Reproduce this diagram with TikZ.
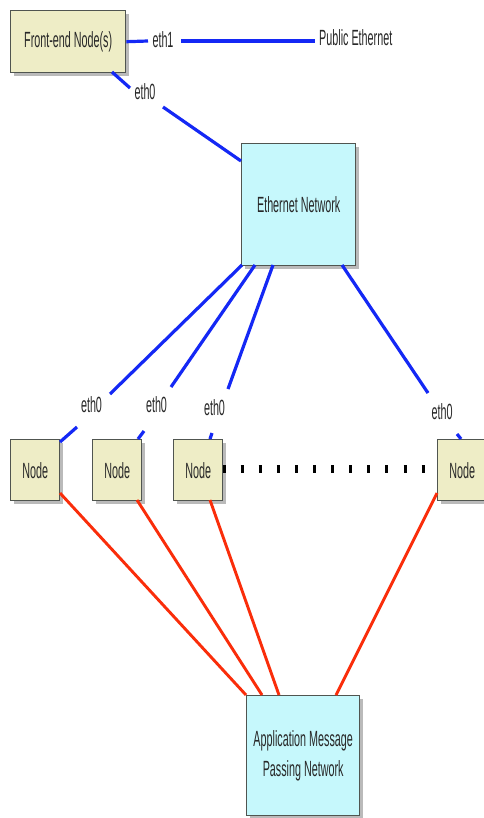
\documentclass[tikz,border=0pt]{standalone}
\usepackage{fontspec}
\setmainfont{Liberation Sans}[FakeStretch=0.49]
\usetikzlibrary{shadows,calc}
\definecolor{beige}{RGB}{238,237,198}
\definecolor{cyanbox}{RGB}{198,248,252}
\definecolor{edgec}{RGB}{80,85,80}
\definecolor{eblue}{RGB}{20,40,245}
\definecolor{ered}{RGB}{250,45,10}
\definecolor{txt}{RGB}{40,40,40}
\begin{document}
\begin{tikzpicture}[x=1pt,y=-1pt,
  box/.style={draw=edgec, line width=1.4pt, anchor=north west, inner sep=0pt,
    drop shadow={shadow xshift=3pt, shadow yshift=-3pt, fill=black!45, opacity=0.6},
    font=\fontsize{22}{30}\selectfont, text=txt, align=center},
  nodebox/.style={box, fill=beige},
  netbox/.style={box, fill=cyanbox},
  lbl/.style={font=\fontsize{22}{26}\selectfont, text=txt, inner sep=0pt},
  bl/.style={draw=eblue, line width=3.2pt},
  rl/.style={draw=ered, line width=2.9pt},
  dots/.style={draw=black, line width=7.5pt, dash pattern=on 3pt off 15.1pt}]
\useasboundingbox[fill=white] (0,0) rectangle (483,818);

% boxes
\node[nodebox, minimum width=115pt, minimum height=62pt] (fe) at (10,10) {Front-end Node(s)};
\node[netbox, minimum width=114pt, minimum height=122pt] (en) at (241,143) {Ethernet Network};
\node[nodebox, minimum width=49pt, minimum height=61pt] (n1) at (10,439) {Node};
\node[nodebox, minimum width=49pt, minimum height=61pt] (n2) at (92,439) {Node};
\node[nodebox, minimum width=49pt, minimum height=61pt] (n3) at (173,439) {Node};
\node[nodebox, minimum width=49pt, minimum height=61pt] (n4) at (437,439) {Node};
\node[netbox, minimum width=113pt, minimum height=120pt] (app) at (246,695) {Application Message\\Passing Network};

% labels
\node[lbl] (eth1) at (163,40) {eth1};
\node[lbl, anchor=west] (pub) at (319,38) {Public Ethernet};
\node[lbl] (e0) at (145,92) {eth0};
\node[lbl] (l1) at (91.5,405) {eth0};
\node[lbl] (l2) at (156.5,405) {eth0};
\node[lbl] (l3) at (214.5,408) {eth0};
\node[lbl] (l4) at (442,412) {eth0};

% gap coordinates
\coordinate (a1) at (148,41);
\coordinate (a2) at (181,41);
\coordinate (a3) at (315,41);
\coordinate (b0) at (112,72);
\coordinate (b1) at (130,88);
\coordinate (b2) at (163,107);
\coordinate (b3) at (241,161);
\coordinate (s1) at (242,265);
\coordinate (s2) at (255,265);
\coordinate (s3) at (273,265);
\coordinate (s4) at (342,265);
\coordinate (c1) at (110,394);
\coordinate (d1) at (77,427);
\coordinate (t1) at (60,442);
\coordinate (c2) at (171,387);
\coordinate (d2) at (144,431);
\coordinate (t2) at (138,439);
\coordinate (c3) at (228,389);
\coordinate (d3) at (212,433);
\coordinate (t3) at (210,439);
\coordinate (c4) at (428,393);
\coordinate (d4) at (457,434);
\coordinate (t4) at (461,439);

% blue connectors
\draw[bl] (fe.east) -- (a1);
\draw[bl] (a2) -- (a3);
\draw[bl] (b0) -- (b1);
\draw[bl] (b2) -- (b3);
\draw[bl] (s1) -- (c1);
\draw[bl] (d1) -- (t1);
\draw[bl] (s2) -- (c2);
\draw[bl] (d2) -- (t2);
\draw[bl] (s3) -- (c3);
\draw[bl] (d3) -- (t3);
\draw[bl] (s4) -- (c4);
\draw[bl] (d4) -- (t4);

% red connectors
\coordinate (r1) at (60,493);
\coordinate (r2) at (137,500);
\coordinate (r3) at (210,500);
\coordinate (r4) at (437,493);
\coordinate (q1) at (246,695);
\coordinate (q2) at (262,695);
\coordinate (q3) at (279,695);
\coordinate (q4) at (336,695);
\draw[rl] (r1) -- (q1);
\draw[rl] (r2) -- (q2);
\draw[rl] (r3) -- (q3);
\draw[rl] (r4) -- (q4);

% dotted row
\coordinate (dd1) at (222.5,469);
\coordinate (dd2) at (436,469);
\draw[dots] (dd1) -- (dd2);
\end{tikzpicture}
\end{document}
